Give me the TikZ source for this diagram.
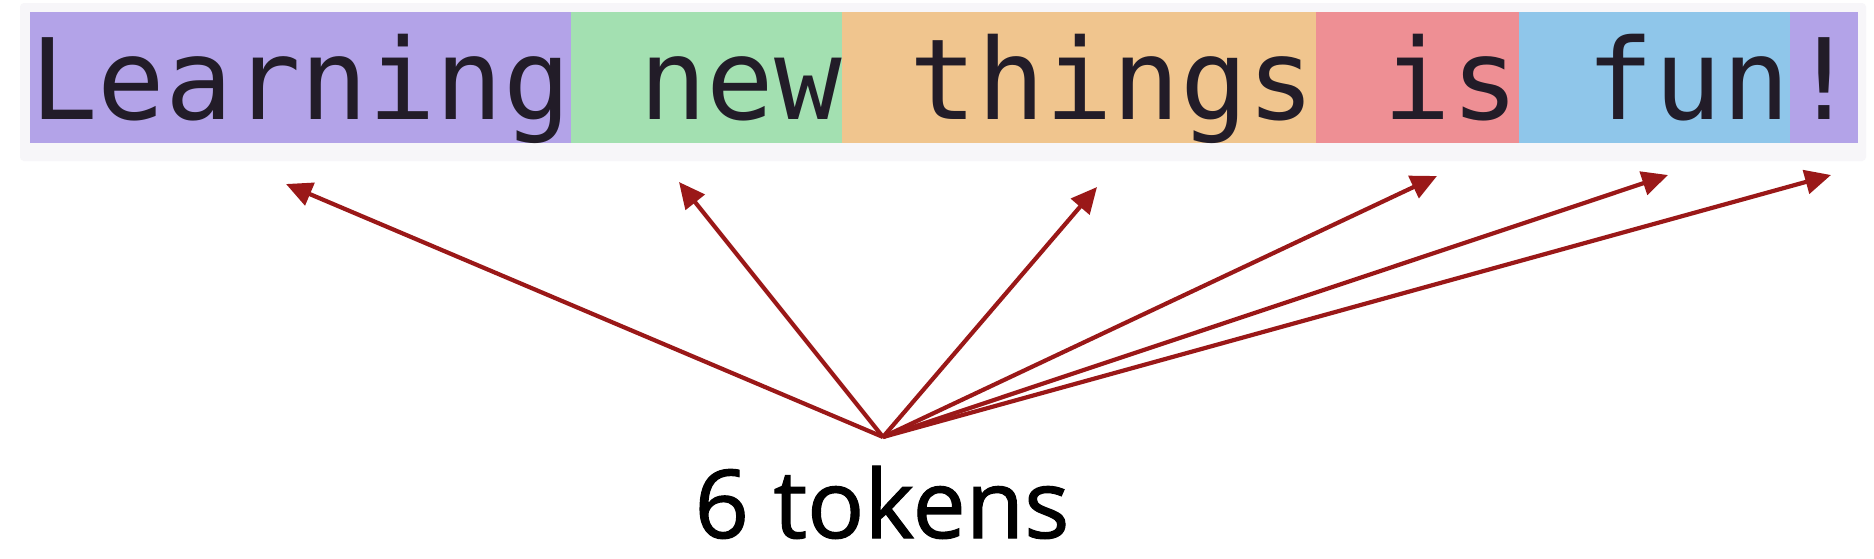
\documentclass[tikz,border=0pt]{standalone}
\usepackage{fontspec}
\usetikzlibrary{arrows.meta}
\newfontfamily\tokfont{DejaVu Sans Mono}
\newfontfamily\lblfont{Open Sans}[FakeBold=1.2]
\definecolor{tpurple}{HTML}{B3A3E8}
\definecolor{tgreen}{HTML}{A3E0B1}
\definecolor{torange}{HTML}{F0C58E}
\definecolor{tred}{HTML}{EE8F94}
\definecolor{tblue}{HTML}{8FC6EA}
\definecolor{ttext}{HTML}{221C28}
\definecolor{arrowred}{HTML}{9A1818}
\definecolor{panel}{HTML}{F7F6F9}
\begin{document}
\begin{tikzpicture}[x=1pt,y=-1pt,
  seg/.style={inner sep=0pt, text height=107pt, text depth=24pt, anchor=north west,
    font=\tokfont\fontsize{112.3}{120}\selectfont, text=ttext},
  tokarrow/.style={draw=arrowred, line width=4.2pt, -{Triangle[length=26pt,width=24pt]}},
  lbl/.style={font=\lblfont\fontsize{95}{100}\selectfont, text=black, inner sep=0pt, anchor=base}]
\useasboundingbox (0,0) rectangle (1874,558);
\fill[white] (0,0) rectangle (1874,558);
\fill[panel, rounded corners=4pt] (20,3) rectangle (1866,161);
\node[seg, fill=tpurple, minimum width=540.8pt] (t1) at (30,12) {Learning};
\node[seg, fill=tgreen, minimum width=270.4pt] (t2) at (t1.north east) {\ new};
\node[seg, fill=torange, minimum width=473.2pt] (t3) at (t2.north east) {\ things};
\node[seg, fill=tred, minimum width=202.8pt] (t4) at (t3.north east) {\ is};
\node[seg, fill=tblue, minimum width=270.4pt] (t5) at (t4.north east) {\ fun};
\node[seg, fill=tpurple, minimum width=67.6pt] (t6) at (t5.north east) {!};
\node[lbl] (lbl) at (882,538) {6 tokens};
\coordinate (o) at (883,437);
\coordinate (a1) at (286,184);
\coordinate (a2) at (679,182);
\coordinate (a3) at (1097,187);
\coordinate (a4) at (1437,176);
\coordinate (a5) at (1668,175);
\coordinate (a6) at (1831,175);
\foreach \i in {1,...,6} { \draw[tokarrow] (o) -- (a\i); }
\end{tikzpicture}
\end{document}
